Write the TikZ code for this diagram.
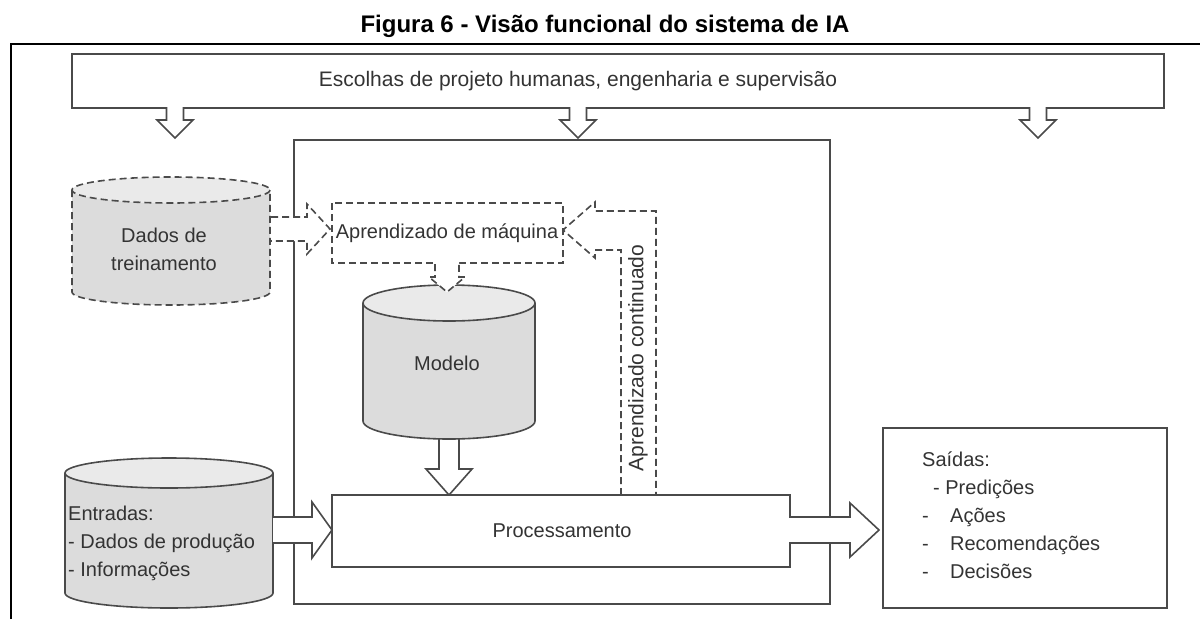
\documentclass[tikz,border=0pt]{standalone}
\usepackage{fontspec}
\setmainfont{Liberation Sans}

\definecolor{linegray}{HTML}{4A4A4A}
\definecolor{cylbody}{HTML}{DCDCDC}
\definecolor{cyltop}{HTML}{EAEAEA}
\definecolor{txtgray}{HTML}{333333}

\tikzset{
  outline/.style={draw=linegray, line width=1.6pt},
  dashline/.style={draw=linegray, line width=1.6pt, dash pattern=on 7pt off 4pt},
  lbl/.style={text=txtgray, font=\fontsize{20}{28}\selectfont},
}

\begin{document}
\begin{tikzpicture}[x=1pt, y=-1pt]
    \useasboundingbox (0,0) rectangle (1200,619);

    % --- Title and outer frame ---
    \node[anchor=base, font=\bfseries\fontsize{24}{28}\selectfont] (title) at (605,32) {Figura 6 - Visão funcional do sistema de IA};
    \draw[line width=2.4pt] (11,619) -- (11,44) -- (1200,44);

    % --- Top banner with its three arrows ---
    \draw[outline] (72,54) -- (1164,54) -- (1164,108)
        -- (1046.5,108) -- (1046.5,120) -- (1056,120) -- (1038,138) -- (1020,120) -- (1029.5,120) -- (1029.5,108)
        -- (586.5,108) -- (586.5,120) -- (596,120) -- (578,138) -- (560,120) -- (569.5,120) -- (569.5,108)
        -- (183.5,108) -- (183.5,120) -- (193,120) -- (175,138) -- (157,120) -- (166.5,120) -- (166.5,108)
        -- (72,108) -- cycle;
    \node[lbl, font=\fontsize{21}{28}\selectfont] (escolhas) at (578,81) {Escolhas de projeto humanas, engenharia e supervisão};

    % --- Inner frame ---
    \draw[outline] (294,140) rectangle (830,604);

    % --- Training data (dashed cylinder) ---
    \fill[cylbody] (72,190) -- (72,292) arc[start angle=180, end angle=0, x radius=99, y radius=13]
        -- (270,190) arc[start angle=0, end angle=180, x radius=99, y radius=13] -- cycle;
    \draw[dashline] (72,190) -- (72,292) arc[start angle=180, end angle=0, x radius=99, y radius=13] -- (270,190);
    \draw[dashline, fill=cyltop] (171,190) ellipse[x radius=99, y radius=13];
    \node[lbl, align=center] (dados) at (164,249) {Dados de\\treinamento};

    % dashed arrow into machine learning
    \fill[white] (271,217) -- (307,217) -- (307,204) -- (330,229) -- (307,254) -- (307,241) -- (271,241) -- cycle;
    \draw[dashline] (271,217) -- (307,217) -- (307,204) -- (330,229) -- (307,254) -- (307,241) -- (271,241);

    % --- Machine learning box ---
    \draw[dashline] (332,203) rectangle (563,263);
    \node[lbl] (aprendizado) at (447,233) {Aprendizado de máquina};

    % --- Model (cylinder) ---
    % arrow down to processing, drawn first so the cylinder hides its top
    \filldraw[outline, fill=white] (439,425) -- (439,469) -- (426,469) -- (449,495) -- (472,469) -- (459,469) -- (459,425);
    \fill[cylbody] (363,303) -- (363,421) arc[start angle=180, end angle=0, x radius=86, y radius=18]
        -- (535,303) arc[start angle=0, end angle=180, x radius=86, y radius=18] -- cycle;
    \draw[outline] (363,303) -- (363,421) arc[start angle=180, end angle=0, x radius=86, y radius=18] -- (535,303);
    \draw[outline, fill=cyltop] (449,303) ellipse[x radius=86, y radius=18];
    \node[lbl] (modelo) at (447,363) {Modelo};

    % dashed arrow from machine learning down to the model
    \fill[white] (435,262) -- (435,277) -- (429,277) -- (447,292) -- (465,277) -- (459,277) -- (459,262) -- cycle;
    \draw[dashline] (435,264) -- (435,277) -- (429,277) -- (447,292) -- (465,277) -- (459,277) -- (459,264);

    % --- Continued learning (dashed bent arrow) ---
    \fill[white] (621,495) -- (621,250) -- (595,250) -- (595,258) -- (563,230) -- (595,202) -- (595,211) -- (656,211) -- (656,495) -- cycle;
    \draw[dashline] (621,495) -- (621,250) -- (595,250) -- (595,258) -- (563,230) -- (595,202) -- (595,211) -- (656,211) -- (656,495);
    \node[lbl, rotate=90, font=\fontsize{21}{28}\selectfont] (continuado) at (638,358) {Aprendizado continuado};

    % --- Processing (block arrow to the outputs) ---
    \filldraw[outline, fill=white] (332,495) -- (790,495) -- (790,517) -- (850,517) -- (850,503) -- (879,530)
        -- (850,557) -- (850,543) -- (790,543) -- (790,567) -- (332,567) -- cycle;
    \node[lbl] (processamento) at (562,531) {Processamento};

    % --- Inputs (cylinder) ---
    \fill[cylbody] (65,473) -- (65,593) arc[start angle=180, end angle=0, x radius=104, y radius=15]
        -- (273,473) arc[start angle=0, end angle=180, x radius=104, y radius=15] -- cycle;
    \draw[outline] (65,473) -- (65,593) arc[start angle=180, end angle=0, x radius=104, y radius=15] -- (273,473);
    \draw[outline, fill=cyltop] (169,473) ellipse[x radius=104, y radius=15];
    \node[lbl, anchor=west, align=left, inner sep=0pt] (entradas) at (68,543) {Entradas:\\- Dados de produção\\- Informações};

    % arrow into processing
    \filldraw[outline, fill=white] (273,517) -- (312,517) -- (312,502) -- (332,530) -- (312,558) -- (312,543) -- (273,543);

    % --- Outputs box ---
    \draw[outline] (883,428) rectangle (1167,608);
    \node[lbl, anchor=west, align=left, inner sep=0pt] (saidas) at (922,515)
        {Saídas:\\\hspace*{11pt}- Predições\\\makebox[28pt][l]{-}Ações\\\makebox[28pt][l]{-}Recomendações\\\makebox[28pt][l]{-}Decisões};

\end{tikzpicture}
\end{document}
